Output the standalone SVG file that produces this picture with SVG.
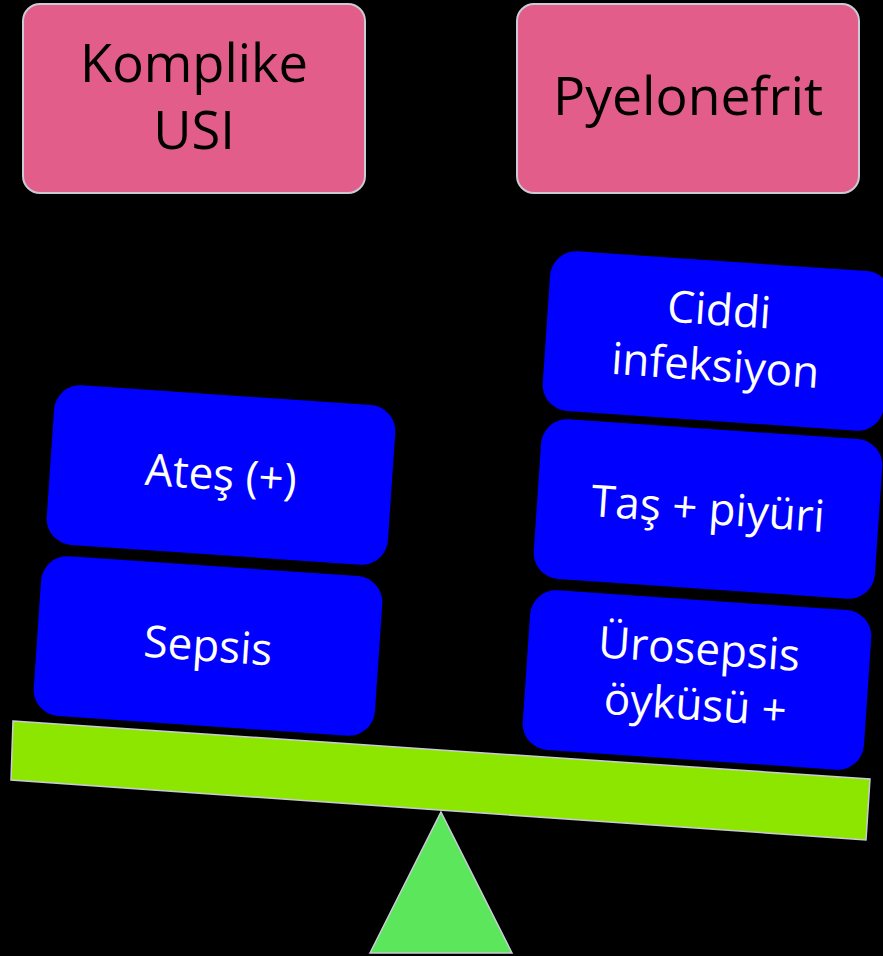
<svg xmlns="http://www.w3.org/2000/svg" width="883" height="956" viewBox="0 0 883 956">
  <style>
    .title { fill: #E35D8A; stroke: #C9CBD6; stroke-width: 2; }
    .title-text { font-family: "Open Sans", "Noto Sans", sans-serif; fill: #000; text-anchor: middle; }
    .weight { fill: #0000FF; }
    .weight-text { font-family: "Open Sans", "Noto Sans", sans-serif; font-size: 44px; fill: #FFFFFF; text-anchor: middle; }
    .beam { fill: #8CE600; stroke: #C9CBD6; stroke-width: 1.5; }
    .fulcrum { fill: #5CE65C; stroke: #C9CBD6; stroke-width: 1.5; }
  </style>
  <rect width="883" height="956" fill="#000"/>

  <!-- Headings above each pan -->
  <g id="komplike-usi">
    <rect class="title" x="23" y="4" width="342" height="189" rx="17"/>
    <text class="title-text" font-size="52.5" x="194" y="82">Komplike</text>
    <text class="title-text" font-size="52.5" x="194" y="149">USI</text>
  </g>
  <g id="pyelonefrit">
    <rect class="title" x="517" y="4" width="342" height="189" rx="17"/>
    <text class="title-text" font-size="53.5" x="688" y="115">Pyelonefrit</text>
  </g>

  <!-- Scale beam and fulcrum -->
  <g id="fulcrum">
    <polygon class="fulcrum" points="441,812 512,953 370,953"/>
  </g>
  <g id="beam">
    <polygon class="beam" points="13,721 870,779 866,840 11,780"/>
  </g>

  <!-- Weights on the left pan -->
  <g id="ates" transform="translate(221,475) rotate(3.9)">
    <rect class="weight" x="-171" y="-80" width="342" height="160" rx="26"/>
    <text class="weight-text" x="0" y="15">Ateş (+)</text>
  </g>
  <g id="sepsis" transform="translate(208,646) rotate(3.9)">
    <rect class="weight" x="-171" y="-80" width="342" height="160" rx="26"/>
    <text class="weight-text" x="0" y="15">Sepsis</text>
  </g>

  <!-- Weights on the right pan -->
  <g id="ciddi-infeksiyon" transform="translate(717,341) rotate(3.9)">
    <rect class="weight" x="-171" y="-80" width="342" height="160" rx="26"/>
    <text class="weight-text" x="0" y="-16">Ciddi</text>
    <text class="weight-text" x="0" y="40">infeksiyon</text>
  </g>
  <g id="tas-piyuri" transform="translate(708,509) rotate(3.9)">
    <rect class="weight" x="-171" y="-80" width="342" height="160" rx="26"/>
    <text class="weight-text" x="0" y="15">Taş + piyüri</text>
  </g>
  <g id="urosepsis" transform="translate(697,680) rotate(3.9)">
    <rect class="weight" x="-171" y="-80" width="342" height="160" rx="26"/>
    <text class="weight-text" x="0" y="-16">Ürosepsis</text>
    <text class="weight-text" x="0" y="40">öyküsü +</text>
  </g>

  <g id="connectors"/>
</svg>
